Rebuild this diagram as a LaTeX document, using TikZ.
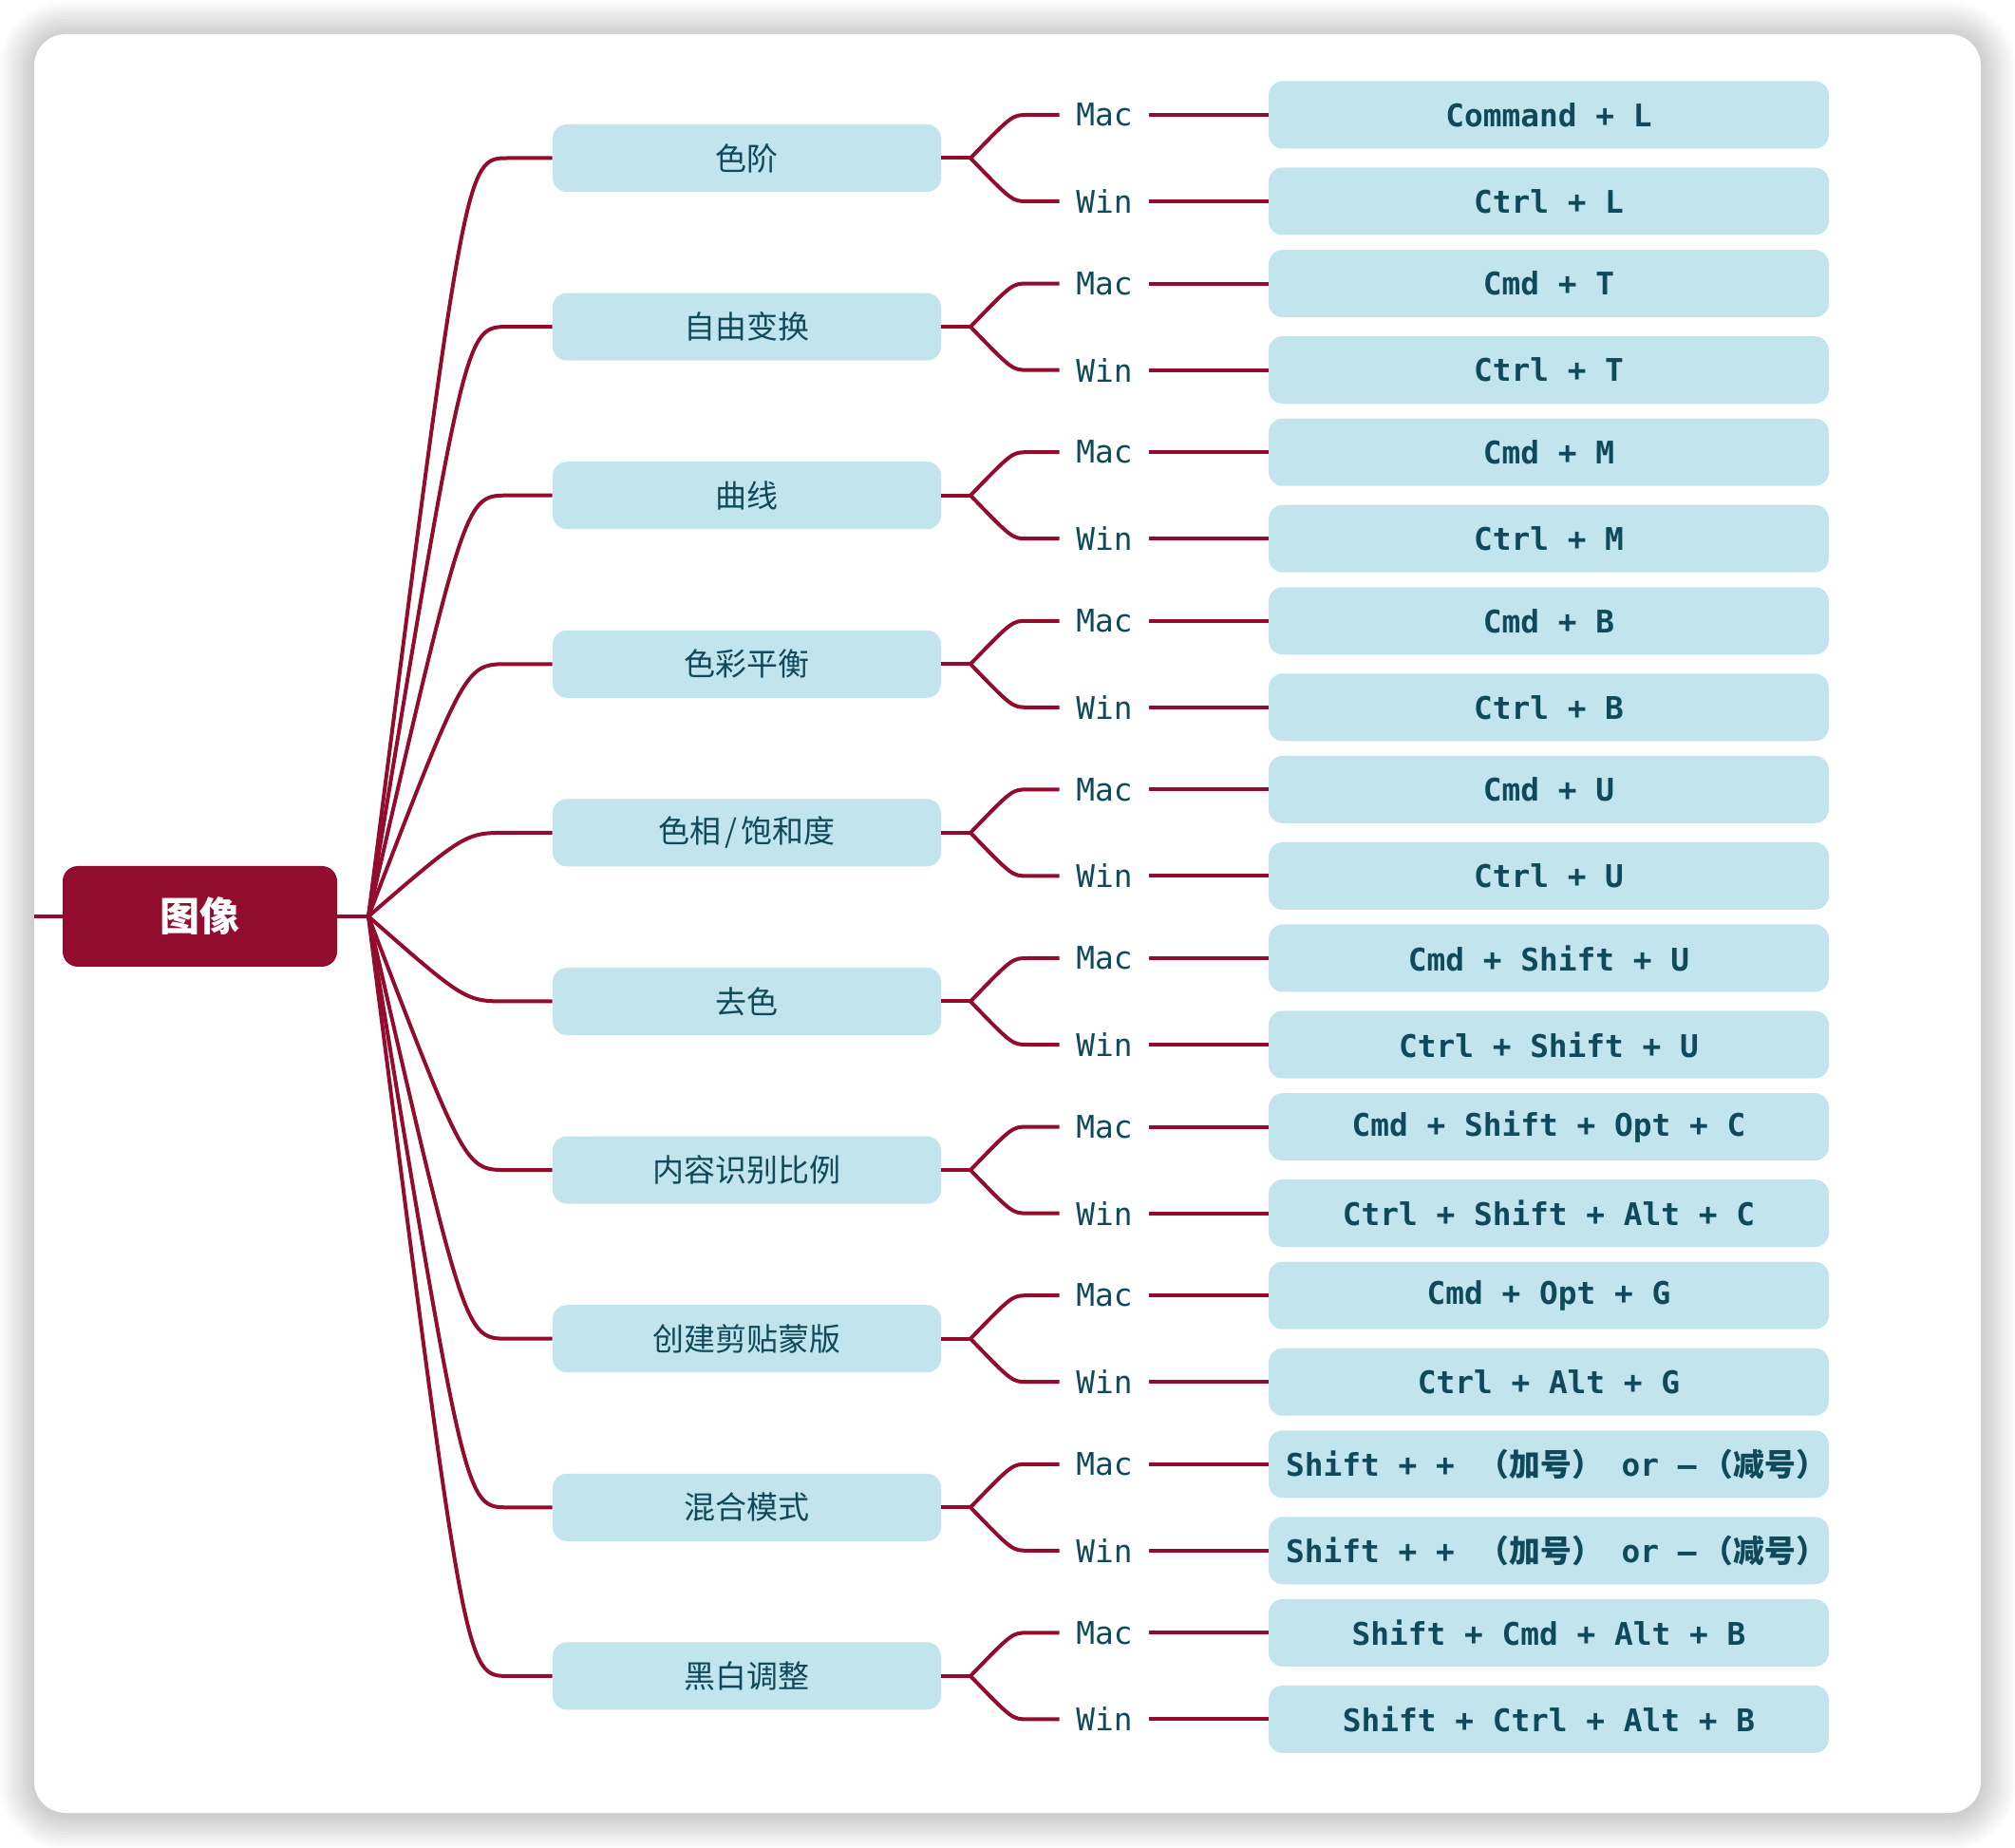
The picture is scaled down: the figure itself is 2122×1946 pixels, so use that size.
\documentclass[tikz,border=0pt]{standalone}
\usepackage{fontspec}
\newfontfamily\cjk{Noto Sans CJK SC}
\newfontfamily\monof{DejaVu Sans Mono}
\definecolor{dred}{HTML}{920D2D}
\definecolor{lblue}{HTML}{C2E4EC}
\definecolor{txt}{HTML}{0E4A5B}
\tikzset{
  catbox/.style={fill=lblue, rounded corners=7.5pt, minimum width=204.5pt, minimum height=35.5pt, inner sep=0pt, text=txt, font=\cjk\fontsize{16.5pt}{20pt}\selectfont},
  keybox/.style={fill=lblue, rounded corners=7.5pt, minimum width=295pt, minimum height=35.5pt, inner sep=0pt, text=txt, font=\monof\bfseries\fontsize{16.4pt}{20pt}\selectfont},
  oslabel/.style={text=txt, font=\monof\fontsize{16.4pt}{20pt}\selectfont, minimum width=47pt, minimum height=20pt, inner sep=0pt},
  rootbox/.style={fill=dred, rounded corners=8pt, minimum width=144.5pt, minimum height=53pt, inner sep=0pt, text=white, font=\cjk\bfseries\fontsize{21pt}{24pt}\selectfont},
  conn/.style={draw=dred, line width=2pt}
}
\newcommand\mkrow[4]{%
  \pgfmathsetmacro\cy{166.5+177.6*#1}%
  \pgfmathsetmacro\my{\cy-45.5}%
  \pgfmathsetmacro\wy{\cy+45.5}%
  \node[catbox] (c#1) at (786.5,\cy) {#2};
  \draw[conn] (J) .. controls (490,\cy) and (490,\cy) .. (535,\cy) -- (c#1.west);
  \coordinate (f#1) at (1022,\cy);
  \draw[conn] (c#1.east) -- (f#1);
  \node[oslabel] (m#1) at (1163,\my) {Mac};
  \node[oslabel] (w#1) at (1163,\wy) {Win};
  \draw[conn] (f#1) .. controls (1066,\my) and (1066,\my) .. (1082,\my) -- (m#1.west);
  \draw[conn] (f#1) .. controls (1066,\wy) and (1066,\wy) .. (1082,\wy) -- (w#1.west);
  \node[keybox] (km#1) at (1631,\my) {#3};
  \node[keybox] (kw#1) at (1631,\wy) {#4};
  \draw[conn] (m#1.east) -- (km#1.west);
  \draw[conn] (w#1.east) -- (kw#1.west);
}
\newcommand\blendkeys{Shift + + \kern2.5pt{\cjk\bfseries （加号）} or –\kern3pt{\cjk\bfseries （减号）}\kern-8pt}
\begin{document}
\begin{tikzpicture}[x=0.5pt,y=-0.5pt]
\useasboundingbox (0,0) rectangle (2122,1946);
\fill[white] (0,0) rectangle (2122,1946);
\foreach \k [evaluate=\k as \r using 16.5+1.5*\k] in {1,...,12} {
  \fill[black, opacity=0.016, rounded corners=\r pt] (36-3*\k, 38-3*\k) rectangle (2086+3*\k, 1911+3*\k);
}
\fill[white, rounded corners=16.5pt] (36,36) rectangle (2086,1909);
\node[rootbox] (R) at (210.5,965) {图像};
\coordinate (L) at (36,965);
\coordinate (J) at (388,965);
\draw[conn] (L) -- (R.west);
\draw[conn] (R.east) -- (J);
\mkrow{0}{色阶}{Command + L}{Ctrl + L}
\mkrow{1}{自由变换}{Cmd + T}{Ctrl + T}
\mkrow{2}{曲线}{Cmd + M}{Ctrl + M}
\mkrow{3}{色彩平衡}{Cmd + B}{Ctrl + B}
\mkrow{4}{色相\kern2pt/\kern2pt饱和度}{Cmd + U}{Ctrl + U}
\mkrow{5}{去色}{Cmd + Shift + U}{Ctrl + Shift + U}
\mkrow{6}{内容识别比例}{Cmd + Shift + Opt + C}{Ctrl + Shift + Alt + C}
\mkrow{7}{创建剪贴蒙版}{Cmd + Opt + G}{Ctrl + Alt + G}
\mkrow{8}{混合模式}{\blendkeys}{\blendkeys}
\mkrow{9}{黑白调整}{Shift + Cmd + Alt + B}{Shift + Ctrl + Alt + B}
\end{tikzpicture}
\end{document}
